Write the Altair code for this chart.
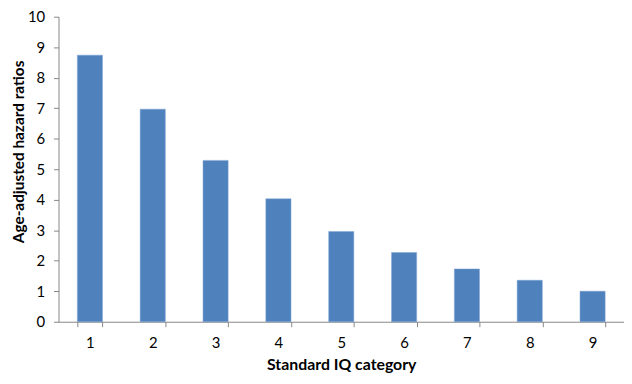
import altair as alt
import pandas as pd

categories = ["1", "2", "3", "4", "5", "6", "7", "8", "9"]
hazard_ratios = [8.74, 6.97, 5.29, 4.03, 2.96, 2.27, 1.73, 1.36, 1.0]

df = pd.DataFrame({"cat": categories, "hr": hazard_ratios})

FONT = "Lato"
AX = "#868686"

chart = alt.Chart(df).mark_bar(color="#4F81BD", stroke="#7FA3D4", strokeWidth=0.5).encode(
    x=alt.X("cat:N", sort=categories,
            scale=alt.Scale(paddingInner=0.6, paddingOuter=0.3),
            axis=alt.Axis(title="Standard IQ category", labelAngle=0, tickBand="extent",
                          domainColor=AX, tickColor=AX, tickSize=5, labelPadding=9,
                          labelFont=FONT, labelFontSize=15, labelColor="#000000",
                          titleFont=FONT, titleFontSize=16, titleFontWeight="bold",
                          titleColor="#000000", titlePadding=6)),
    y=alt.Y("hr:Q", scale=alt.Scale(domain=[0, 10], nice=False),
            axis=alt.Axis(title="Age-adjusted hazard ratios", values=list(range(0, 11)),
                          grid=False, domainColor=AX, tickColor=AX, tickSize=5, labelPadding=9,
                          labelFont=FONT, labelFontSize=15, labelColor="#000000",
                          titleFont=FONT, titleFontSize=15.5, titleFontWeight="bold",
                          titleColor="#000000", titlePadding=1, titleY=136)),
).properties(
    width=571, height=308,
    autosize=alt.AutoSizeParams(type="none"),
    padding={"left": 51, "top": 7, "right": 0, "bottom": 53},
).configure_view(stroke=None)

chart.save("out.html", embed_options={"renderer": "svg", "actions": False})
